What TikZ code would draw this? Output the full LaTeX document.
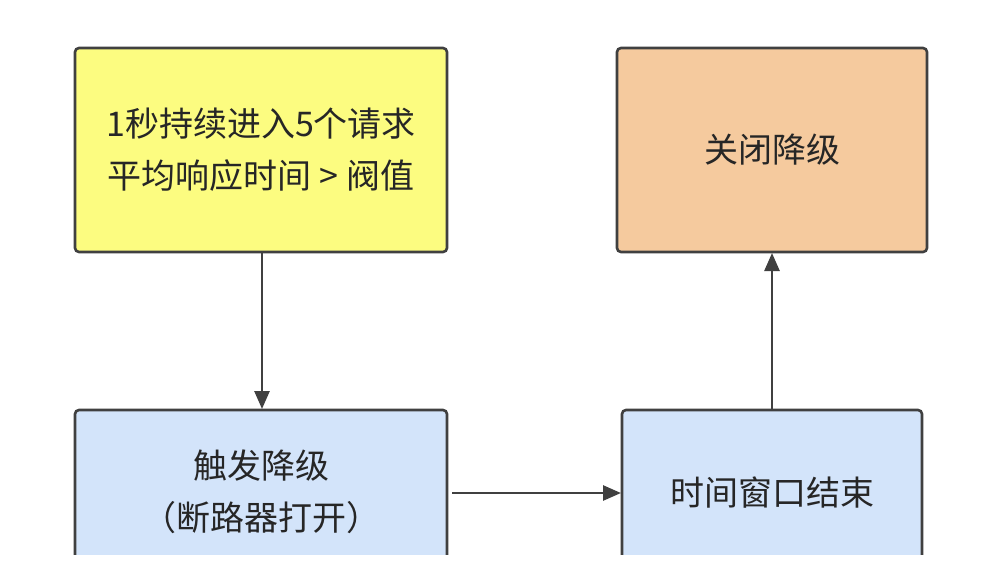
\documentclass[tikz,border=0pt]{standalone}
\usepackage{fontspec}
\setmainfont{Noto Sans CJK SC}
\usetikzlibrary{arrows.meta}
\begin{document}
\begin{tikzpicture}[x=1pt,y=-1pt,
  box/.style={draw=black!75,line width=2.6pt,rounded corners=4pt},
  lbl/.style={font=\fontsize{34}{52}\selectfont,align=center,text=black!85},
  arr/.style={draw=black!75,line width=2.6pt,-{Triangle[length=18pt,width=15pt]}}]
\useasboundingbox (0,0) rectangle (995,581);
\clip (0,0) rectangle (995,581);
\fill[white] (0,0) rectangle (995,581);
\filldraw[box,fill={rgb,255:red,252;green,252;blue,128}] (75,48) rectangle (447,252);
\filldraw[box,fill={rgb,255:red,245;green,202;blue,158}] (617,48) rectangle (927,252);
\filldraw[box,fill={rgb,255:red,211;green,228;blue,250}] (75,410) rectangle (447,640);
\filldraw[box,fill={rgb,255:red,211;green,228;blue,250}] (622,410) rectangle (922,640);
\fill[white] (0,555) rectangle (995,600);
\node[lbl] (a) at (261,150) {1秒持续进入5个请求\\平均响应时间 > 阀值};
\node[lbl] (b) at (772,150) {关闭降级};
\node[lbl] (c) at (261,492) {触发降级\\（断路器打开）};
\node[lbl] (d) at (772,493) {时间窗口结束};
\coordinate (a1) at (262,252); \coordinate (c1) at (262,409);
\coordinate (c2) at (452,493); \coordinate (d2) at (621,493);
\coordinate (d3) at (772,409); \coordinate (b3) at (772,253);
\draw[arr] (a1) -- (c1);
\draw[arr] (c2) -- (d2);
\draw[arr] (d3) -- (b3);
\end{tikzpicture}
\end{document}
